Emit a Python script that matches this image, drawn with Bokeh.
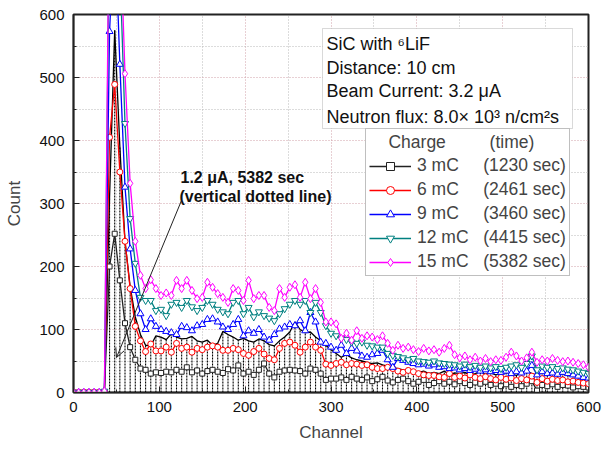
from bokeh.plotting import figure
from bokeh.models import (Range1d, Legend, LegendItem, Label, BoxAnnotation,
                          Arrow, OpenHead, FixedTicker)
from bokeh.embed import file_html
from bokeh.resources import INLINE

# ---------------- data ----------------
channels = list(range(0, 601, 6))

# 1.2 uA, 5382 sec (black line with vertical dotted drop lines)
beam = [0, 0, 0, 0, 0, 0, 2, 310, 575, 390,
        240, 168, 120, 92, 75, 74, 90, 88, 84, 93,
        88, 85, 86, 89, 82, 80, 83, 75, 78, 97,
        92, 88, 83, 86, 82, 80, 85, 82, 76, 74,
        82, 88, 96, 112, 100, 95, 96, 88, 82, 75,
        68, 62, 56, 60, 55, 52, 50, 48, 46, 47,
        44, 42, 40, 38, 36, 34, 33, 32, 34, 30,
        32, 30, 34, 28, 31, 30, 32, 28, 30, 33,
        29, 31, 28, 30, 32, 30, 27, 32, 34, 30,
        28, 31, 30, 33, 29, 30, 28, 26, 24, 23,
        22]

q3 = [0, 0, 0, 0, 0, 0, 1, 200, 252, 178,
      110, 72, 52, 38, 36, 30, 32, 31, 33, 32,
      36, 33, 40, 32, 35, 30, 34, 36, 33, 31,
      37, 35, 43, 30, 33, 28, 36, 46, 30, 24,
      33, 35, 36, 35, 34, 30, 38, 36, 30, 20,
      22, 22, 24, 20, 25, 22, 20, 24, 18, 21,
      25, 19, 16, 20, 22, 18, 14, 17, 20, 12,
      15, 18, 14, 17, 13, 18, 15, 12, 16, 14,
      17, 12, 14, 10, 13, 9, 12, 10, 14, 18,
      3, 12, 10, 13, 9, 12, 11, 8, 10, 9,
      8]

q6 = [0, 0, 0, 0, 0, 0, 1, 405, 489, 350,
      240, 165, 105, 82, 65, 77, 66, 66, 72, 64,
      78, 70, 72, 64, 70, 68, 72, 74, 72, 67,
      67, 70, 68, 62, 59, 65, 70, 61, 54, 52,
      70, 78, 80, 75, 64, 72, 80, 72, 67, 45,
      43, 46, 48, 44, 46, 45, 43, 44, 40, 38,
      38, 40, 38, 34, 32, 35, 33, 30, 28, 27,
      27, 25, 24, 30, 24, 26, 23, 28, 24, 22,
      25, 22, 20, 24, 21, 23, 19, 22, 20, 26,
      16, 22, 18, 21, 19, 20, 17, 18, 16, 15,
      14]

q9 = [0, 0, 0, 0, 0, 0, 2, 573, 750, 521,
      326, 228, 162, 125, 100, 117, 105, 100, 97, 95,
      92, 105, 103, 98, 106, 108, 116, 117, 112, 104,
      100, 108, 116, 90, 98, 94, 100, 88, 83, 92,
      101, 104, 108, 106, 114, 98, 127, 112, 80, 78,
      72, 67, 75, 62, 70, 66, 58, 56, 60, 62,
      67, 52, 40, 54, 51, 48, 46, 44, 45, 42,
      44, 40, 41, 38, 39, 36, 38, 35, 37, 34,
      36, 33, 35, 32, 34, 30, 33, 31, 34, 43,
      28, 33, 30, 31, 29, 32, 30, 28, 26, 24,
      23]

q12 = [0, 0, 0, 0, 0, 0, 2, 800, 850, 680,
       427, 276, 205, 151, 146, 146, 130, 132, 122, 140,
       143, 135, 146, 136, 130, 135, 146, 140, 132, 128,
       125, 143, 146, 125, 135, 120, 128, 122, 118, 114,
       125, 133, 140, 146, 140, 146, 127, 143, 127, 106,
       94, 90, 86, 84, 80, 78, 80, 75, 74, 72,
       72, 62, 59, 57, 55, 52, 54, 50, 49, 48,
       50, 47, 46, 45, 44, 42, 45, 41, 43, 40,
       42, 39, 41, 38, 40, 42, 44, 40, 46, 58,
       36, 42, 40, 41, 38, 39, 37, 36, 34, 32,
       30]

q15 = [0, 0, 0, 0, 0, 0, 2, 850, 900, 750,
       506, 332, 240, 186, 165, 179, 165, 154, 158, 154,
       178, 165, 178, 162, 149, 151, 175, 167, 157, 151,
       143, 165, 162, 146, 178, 149, 154, 154, 135, 130,
       165, 151, 167, 171, 151, 175, 149, 165, 143, 112,
       112, 109, 86, 94, 83, 98, 86, 90, 88, 84,
       90, 78, 67, 75, 70, 72, 68, 65, 70, 66,
       68, 64, 70, 75, 60, 55, 58, 52, 56, 50,
       54, 49, 52, 51, 56, 64, 58, 50, 55, 64,
       48, 52, 50, 54, 51, 49, 50, 48, 46, 44,
       40]

series_names = ["3 mC", "6 mC", "9 mC", "12 mC", "15 mC"]
series_times = ["(1230 sec)", "(2461 sec)", "(3460 sec)", "(4415 sec)", "(5382 sec)"]
series_values = [q3, q6, q9, q12, q15]

x_ticks = [0, 100, 200, 300, 400, 500, 600]
x_minor = [50, 150, 250, 350, 450, 550]
y_ticks = [0, 100, 200, 300, 400, 500, 600]
y_minor = [50, 150, 250, 350, 450, 550]

# ---------------- styling ----------------
FONT = "Liberation Sans"
colors = ["#222222", "#ff0000", "#0000ff", "#008080", "#ff00ff"]
markers = ["square", "circle", "triangle", "inverted_triangle", "diamond"]
msizes = [5, 6, 7, 7, 8]

FL, FR, FT, FB = 73, 588, 14, 392


def dx(px):
    return (px - FL) / (FR - FL) * 600.0


def dy(py):
    return (FB - py) / (FB - FT) * 600.0


p = figure(width=609, height=450, output_backend="svg", toolbar_location=None,
           x_range=Range1d(0, 600), y_range=Range1d(0, 600),
           min_border_left=FL, min_border_right=609 - FR,
           min_border_top=FT, min_border_bottom=450 - FB)
p.background_fill_color = "white"
p.border_fill_color = "white"
p.outline_line_color = "#222222"
p.outline_line_width = 2

p.xaxis.ticker = FixedTicker(ticks=x_ticks, minor_ticks=x_minor)
p.yaxis.ticker = FixedTicker(ticks=y_ticks, minor_ticks=y_minor)
p.xaxis.axis_label = "Channel"
p.yaxis.axis_label = "Count"
for ax in (p.xaxis, p.yaxis):
    ax.axis_label_text_font = FONT
    ax.axis_label_text_font_size = "17px"
    ax.axis_label_text_font_style = "normal"
    ax.major_label_text_font = FONT
    ax.major_label_text_font_size = "15px"
    ax.major_label_text_color = "#111111"
    ax.axis_line_color = "#222222"
    ax.axis_line_width = 1.5
    ax.major_tick_in = 6
    ax.major_tick_out = 0
    ax.minor_tick_in = 3
    ax.minor_tick_out = 0
    ax.major_tick_line_color = "#222222"
    ax.minor_tick_line_color = "#222222"
    ax.major_label_standoff = 9
p.yaxis.axis_label_standoff = 12
p.xaxis.axis_label_standoff = 8

for g in (p.xgrid, p.ygrid):
    g.grid_line_color = "#d0a0a8"
    g.grid_line_dash = "1 2"
    g.grid_line_width = 1
    g.minor_grid_line_color = "#b8b8b8"
    g.minor_grid_line_dash = "1 2"
    g.minor_grid_line_width = 1

# vertical dotted drop lines and black line of the 1.2 uA run
p.segment(x0=channels, y0=[0] * len(channels), x1=channels, y1=beam,
          line_color="black", line_dash="2 1", line_width=1.1)
p.line(channels, beam, line_color="black", line_width=1.3)

items = []
for name, tm, vals, c, m, s in zip(series_names, series_times, series_values,
                                    colors, markers, msizes):
    lr = p.line(channels, vals, line_color=c, line_width=1.3)
    sr = p.scatter(channels, vals, marker=m, size=s, line_color=c,
                   fill_color="white", line_width=1)
    pad = "\u2007\u00a0\u00a0\u00a0" if len(name) == 4 else "\u00a0\u00a0\u00a0"
    items.append(LegendItem(label=name + pad + tm, renderers=[lr, sr]))

legend = Legend(items=items, location=(365 - FL, FB - 276),
                title="\u00a0\u00a0\u00a0\u00a0Charge" + "\u00a0" * 9 + "(time)",
                title_text_font=FONT, title_text_font_size="17.5px",
                title_text_font_style="normal", title_standoff=2,
                label_text_font=FONT, label_text_font_size="17.5px",
                glyph_width=42, glyph_height=20, label_height=20,
                label_standoff=6, spacing=3, padding=3, margin=0,
                border_line_color="#808080", border_line_width=1,
                background_fill_color="white", background_fill_alpha=1)
p.add_layout(legend)

# info box
p.add_layout(BoxAnnotation(left=dx(322), right=dx(572), top=dy(28), bottom=dy(128),
                           fill_color="white", fill_alpha=1,
                           line_color="#808080", line_width=1))
info_lines = ["SiC with \u2076LiF", "Distance: 10 cm", "Beam Current: 3.2 \u03bcA",
              "Neutron flux: 8.0\u00d7 10\u00b3 n/cm\u00b2s"]
info_y = [43, 67, 90, 116]
for t, yy in zip(info_lines, info_y):
    p.add_layout(Label(x=dx(326), y=dy(yy), text=t, text_font=FONT,
                       text_font_size="18px", text_baseline="middle",
                       text_align="left", text_color="#111111"))

# annotation for the dotted-line run
p.add_layout(Label(x=dx(180), y=dy(177), text="1.2 \u03bcA, 5382 sec", text_font=FONT,
                   text_font_size="16px", text_font_style="bold",
                   text_baseline="middle", text_color="#111111"))
p.add_layout(Label(x=dx(179), y=dy(196), text="(vertical dotted line)", text_font=FONT,
                   text_font_size="16px", text_font_style="bold",
                   text_baseline="middle", text_color="#111111"))
p.add_layout(Arrow(end=OpenHead(size=9, line_width=1, line_color="#222222"),
                   x_start=dx(181), y_start=dy(200), x_end=dx(116), y_end=dy(357),
                   line_width=1, line_color="#222222"))

open("out.html", "w").write(file_html(p, INLINE))
